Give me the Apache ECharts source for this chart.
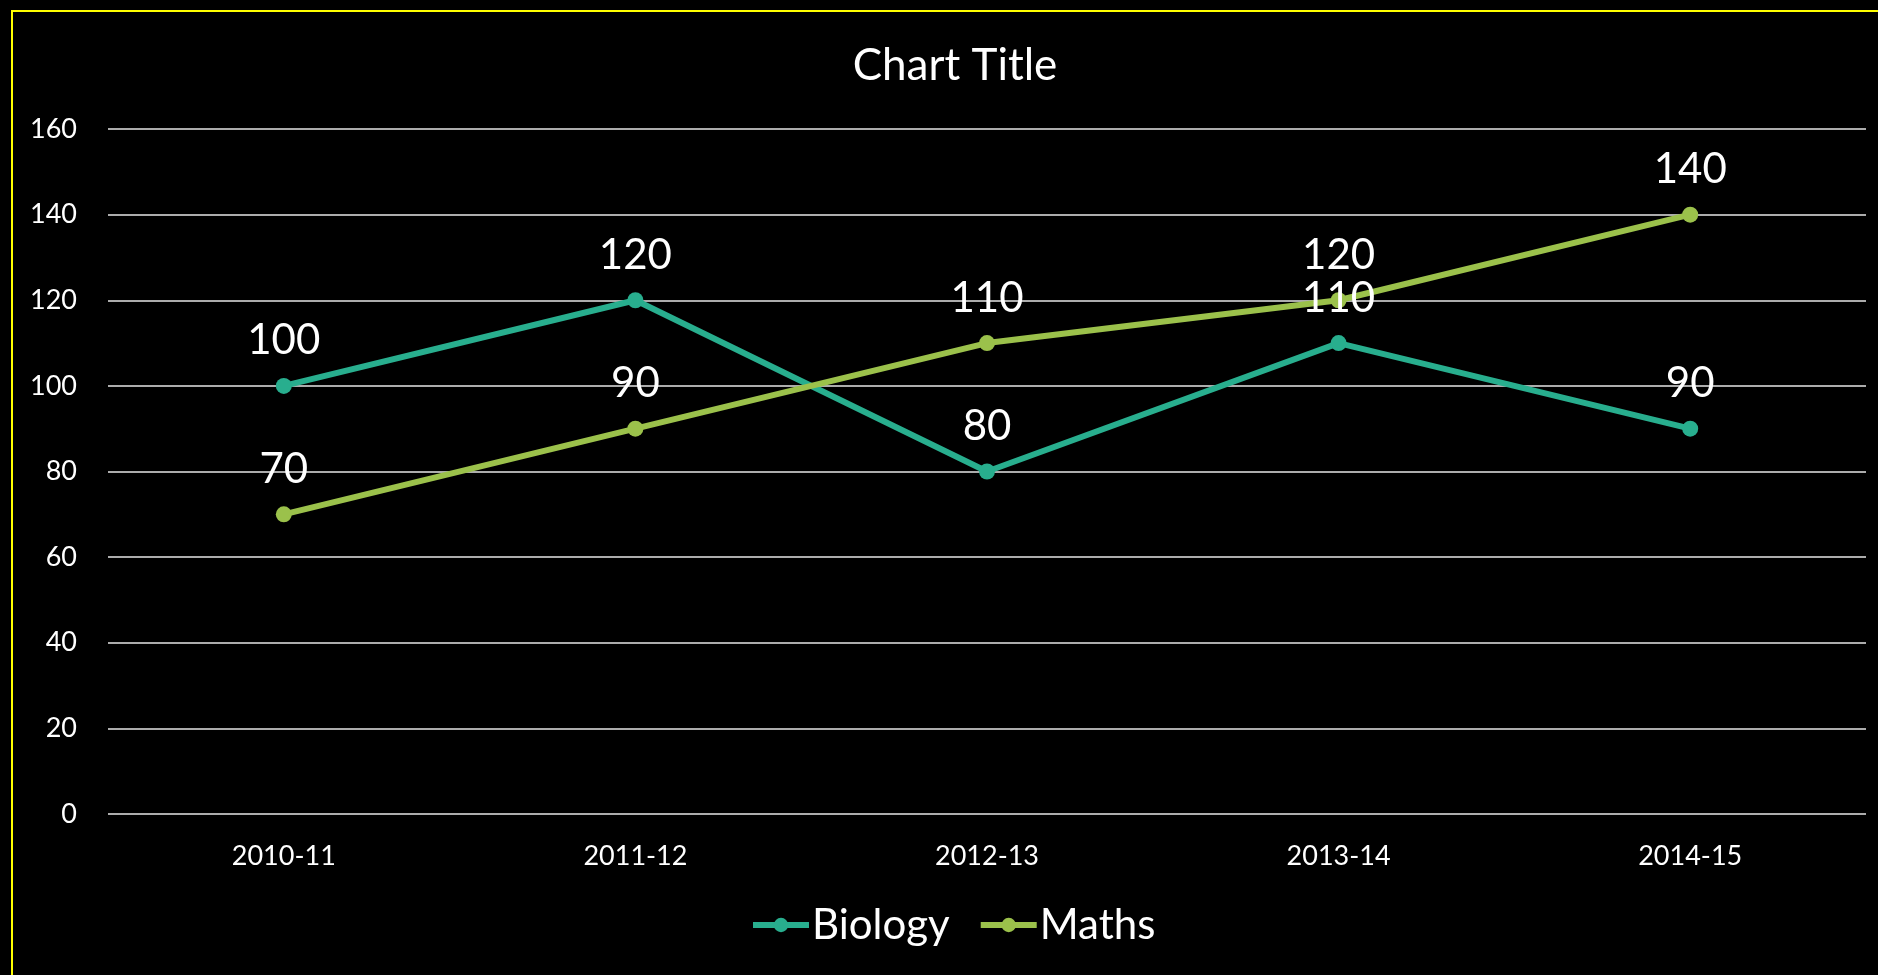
<!DOCTYPE html>
<html>
<head>
<meta charset="utf-8">
<title>Chart Title</title>
<script src="https://cdn.jsdelivr.net/npm/echarts@6/dist/echarts.min.js"></script>
<style>
  html, body { margin: 0; padding: 0; background: #000; }
  #main { width: 1878px; height: 975px; }
</style>
</head>
<body>
<div id="main"></div>
<script>
  // data
  const years = ['2010-11', '2011-12', '2012-13', '2013-14', '2014-15']
  const biology = [100, 120, 80, 110, 90]
  const maths = [70, 90, 110, 120, 140]
  const yTicks = { min: 0, max: 160, interval: 20 }

  const FONT = 'Lato'
  const BIO_COLOR = '#28ae8e'
  const MATHS_COLOR = '#9bc14b'

  const myChart = echarts.init(document.getElementById('main'))

  function lineSeries(name, values, color) {
    return {
      name: name,
      type: 'line',
      data: values,
      symbol: 'circle',
      symbolSize: 16,
      lineStyle: { color: color, width: 6 },
      itemStyle: { color: color },
      label: {
        show: true,
        position: 'top',
        distance: 16,
        color: '#ffffff',
        fontFamily: FONT,
        fontSize: 42
      },
      emphasis: { disabled: true }
    }
  }

  const option = {
    backgroundColor: '#000000',
    animation: false,
    title: {
      text: 'Chart Title',
      left: 950,
      top: 39,
      textAlign: 'center',
      textStyle: {
        color: '#ffffff',
        fontFamily: FONT,
        fontWeight: 'normal',
        fontSize: 44
      }
    },
    graphic: [{
      type: 'rect',
      silent: true,
      shape: { x: 12, y: 11, width: 2000, height: 2000 },
      style: { fill: 'none', stroke: '#ffff00', lineWidth: 2 }
    }],
    legend: {
      left: 745,
      top: 899,
      itemWidth: 56,
      itemHeight: 18,
      itemGap: 28,
      textStyle: {
        color: '#ffffff',
        fontFamily: FONT,
        fontSize: 42,
        padding: [0, 0, 0, -2]
      },
      data: [
        { name: 'Biology', lineStyle: { width: 6, color: BIO_COLOR } },
        { name: 'Maths', lineStyle: { width: 6, color: MATHS_COLOR } }
      ]
    },
    grid: {
      left: 108,
      right: 12,
      top: 129,
      bottom: 161
    },
    xAxis: {
      type: 'category',
      data: years,
      boundaryGap: true,
      axisLine: { show: false },
      axisTick: { show: false },
      axisLabel: {
        color: '#ffffff',
        fontFamily: FONT,
        fontSize: 27,
        margin: 29
      }
    },
    yAxis: {
      type: 'value',
      min: yTicks.min,
      max: yTicks.max,
      interval: yTicks.interval,
      axisLine: { show: false },
      axisTick: { show: false },
      axisLabel: {
        color: '#ffffff',
        fontFamily: FONT,
        fontSize: 27,
        margin: 31
      },
      splitLine: {
        lineStyle: { color: '#e6e6e6', width: 1.5 }
      }
    },
    series: [
      lineSeries('Biology', biology, BIO_COLOR),
      lineSeries('Maths', maths, MATHS_COLOR)
    ]
  }

  myChart.setOption(option, true)
</script>
</body>
</html>
